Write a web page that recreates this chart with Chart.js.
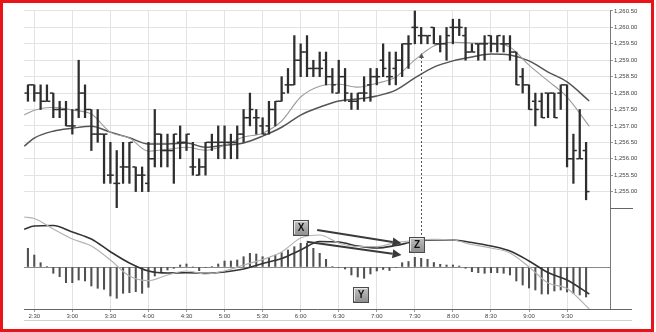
<!DOCTYPE html>
<html><head><meta charset="utf-8">
<script src="https://cdn.jsdelivr.net/npm/chart.js@4.4.1/dist/chart.umd.min.js"></script>
<style>html,body{margin:0;padding:0;background:#fff;}canvas{display:block;}</style>
</head><body><canvas id="c" width="656" height="332"></canvas>
<script>
// ---------- DATA ----------
const tickLabels = ['2:30','3:00','3:30','4:00','4:30','5:00','5:30','6:00','6:30','7:00','7:30','8:00','8:30','9:00','9:30'];
const priceTicks = [1255,1255.5,1256,1256.5,1257,1257.5,1258,1258.5,1259,1259.5,1260,1260.5];
const barsPerLabel = 6;   // 5-minute bars, a label every 30 minutes
const firstBar = -1;      // first bar is 2:25 (one bar before 2:30)

const opens  = [1258.0,1258.25,1258.0,1257.75,1258.0,1257.5,1257.5,1257.0,1257.5,1258.0,1257.5,1256.75,1256.75,1255.5,1255.25,1255.75,1255.75,1255.75,1255.5,1255.25,1256.0,1256.75,1256.25,1256.25,1256.5,1256.5,1255.75,1255.5,1255.75,1256.5,1256.5,1256.5,1256.5,1256.5,1256.75,1257.25,1257.25,1257.0,1257.0,1257.5,1257.75,1258.25,1258.25,1259.0,1259.25,1258.75,1258.75,1259.0,1258.5,1258.0,1258.5,1257.75,1257.75,1258.0,1258.25,1258.5,1259.0,1258.5,1258.75,1259.0,1259.5,1260.0,1259.75,1259.75,1260.0,1259.5,1259.5,1260.0,1260.0,1259.75,1259.25,1259.5,1259.5,1259.75,1259.5,1259.5,1259.5,1259.25,1258.5,1258.25,1257.75,1257.75,1258.0,1258.0,1258.0,1258.25,1256.0,1256.0,1256.25];
const highs  = [1258.25,1258.25,1258.25,1258.25,1258.0,1257.75,1257.75,1257.5,1259.0,1258.25,1257.5,1257.5,1256.75,1256.5,1256.25,1256.5,1256.5,1255.75,1255.75,1256.5,1257.5,1256.75,1256.75,1256.75,1257.0,1256.75,1256.5,1256.0,1256.5,1256.75,1257.0,1257.0,1256.75,1257.0,1257.5,1258.0,1257.5,1257.25,1257.75,1257.75,1258.5,1258.75,1259.75,1259.5,1259.75,1259.0,1259.25,1259.25,1258.75,1259.0,1258.75,1258.0,1258.0,1258.5,1258.75,1258.75,1259.5,1259.25,1259.25,1259.5,1259.75,1260.5,1260.0,1259.75,1260.0,1259.75,1260.0,1260.25,1260.25,1260.0,1259.5,1259.5,1259.75,1259.75,1259.75,1259.75,1259.75,1259.25,1258.75,1258.25,1258.0,1258.0,1258.0,1258.0,1258.25,1258.25,1256.75,1257.5,1256.5];
const lows   = [1257.75,1257.75,1257.5,1257.75,1257.25,1257.25,1257.0,1256.75,1257.25,1257.25,1256.25,1256.5,1255.25,1255.25,1254.5,1255.25,1255.25,1255.0,1255.0,1255.0,1255.75,1255.75,1255.75,1255.25,1256.0,1256.25,1255.5,1255.5,1255.5,1256.25,1256.0,1256.0,1256.0,1256.0,1256.5,1257.0,1256.75,1256.75,1256.75,1257.0,1257.75,1258.0,1258.25,1258.5,1258.5,1258.5,1258.5,1258.25,1258.0,1258.0,1257.75,1257.5,1257.5,1257.75,1257.75,1258.25,1258.5,1258.25,1258.25,1258.5,1258.75,1259.5,1259.5,1259.5,1259.5,1259.25,1259.0,1259.5,1259.75,1259.0,1259.25,1259.0,1259.0,1259.25,1259.25,1259.25,1259.0,1258.25,1258.0,1257.5,1257.0,1257.25,1257.25,1257.25,1257.5,1255.75,1255.25,1256.0,1254.75];
const closes = [1258.25,1258.0,1257.75,1257.75,1257.5,1257.5,1257.0,1257.0,1258.0,1257.5,1256.75,1256.75,1256.75,1255.5,1255.25,1255.75,1256.5,1255.5,1255.5,1256.0,1256.75,1256.25,1256.25,1256.75,1256.5,1256.75,1255.75,1255.75,1256.5,1256.5,1256.5,1256.5,1256.5,1256.75,1257.25,1257.5,1257.25,1256.75,1257.5,1257.75,1258.0,1258.25,1259.0,1259.25,1258.75,1258.75,1258.75,1258.5,1258.25,1258.5,1258.0,1257.75,1258.0,1258.0,1258.5,1258.5,1258.75,1258.5,1259.0,1259.5,1259.5,1260.0,1259.75,1259.75,1259.5,1259.5,1259.75,1260.0,1260.0,1259.25,1259.25,1259.5,1259.5,1259.5,1259.75,1259.5,1259.25,1258.25,1258.25,1257.5,1257.5,1257.25,1258.0,1257.25,1258.25,1256.0,1256.25,1256.0,1255.0];

// moving averages read every 3 bars (x in bar units, 0 = 2:30)
const sampleAt = [-1.6,0,3,6,9,12,15,18,21,24,27,30,33,36,39,42,45,48,51,54,57,60,63,66,69,72,75,78,81,84,87.5];
const maFast = [1257.33,1257.48,1257.57,1257.48,1257.36,1256.81,1256.63,1256.23,1256.29,1256.35,1256.26,1256.41,1256.66,1256.78,1257.15,1257.88,1258.21,1258.27,1258.18,1258.30,1258.49,1259.01,1259.43,1259.55,1259.52,1259.52,1259.40,1258.85,1258.37,1257.88,1256.99];
const maSlow = [1256.38,1256.63,1256.84,1256.93,1256.99,1256.81,1256.64,1256.45,1256.45,1256.48,1256.35,1256.41,1256.48,1256.69,1256.96,1257.33,1257.57,1257.76,1257.82,1257.91,1258.09,1258.46,1258.79,1258.98,1259.10,1259.19,1259.16,1258.98,1258.64,1258.34,1257.76];

// MACD panel
const macdLine   = [0.50,0.485,0.38,0.28,0.21,0.07,-0.09,-0.137,-0.08,-0.04,-0.07,-0.04,0.02,0.075,0.15,0.29,0.32,0.24,0.205,0.203,0.245,0.265,0.277,0.27,0.225,0.19,0.14,0.0,-0.16,-0.215,-0.42];
const signalLine = [0.377,0.41,0.415,0.35,0.28,0.153,0.04,-0.04,-0.06,-0.057,-0.063,-0.05,-0.02,0.035,0.085,0.17,0.255,0.25,0.21,0.19,0.215,0.255,0.27,0.27,0.245,0.21,0.16,0.06,-0.055,-0.13,-0.27];
const histogram  = [0.187,0.12,0.043,0.005,-0.063,-0.097,-0.157,-0.157,-0.13,-0.14,-0.19,-0.213,-0.223,-0.29,-0.313,-0.263,-0.257,-0.247,-0.263,-0.203,-0.09,-0.057,-0.03,-0.013,0.02,0.03,0,-0.037,-0.005,0.005,0.03,0.06,0.06,0.07,0.103,0.137,0.13,0.103,0.097,0.12,0.143,0.17,0.203,0.237,0.237,0.187,0.137,0.077,0.005,-0.005,-0.02,-0.08,-0.1,-0.113,-0.07,-0.04,-0.025,-0.035,-0.005,0.043,0.055,0.097,0.087,0.077,0.045,0.027,0.02,0.02,0.01,-0.013,-0.047,-0.057,-0.063,-0.057,-0.057,-0.063,-0.08,-0.14,-0.18,-0.21,-0.23,-0.27,-0.27,-0.24,-0.23,-0.25,-0.265,-0.28,-0.3];

// annotations (data coordinates)
const labelBoxes = [{text:'X', x:42.1, y:0.39},{text:'Z', x:60.3, y:0.223},{text:'Y', x:51.5, y:-0.275}];
const arrows = [{x0:44.6, y0:0.37, x1:57.9, y1:0.237},{x0:42.95, y0:0.253, x1:57.9, y1:0.12}];
const guide = {x:61, priceTop:1259.22, macdBottom:0.303};

// ---------- CHART ----------
const barX = k => firstBar + k;
const tickPos = tickLabels.map((_, j) => j * barsPerLabel);
const FONT = 'Liberation Sans, Arial, sans-serif';
const BAR = '#2e2e2e';
const tickShift = 0.3;

const extras = {
  id: 'extras',
  afterDatasetsDraw(chart) {
    const {ctx, scales: {x, yp, ym}} = chart;
    ctx.save();
    const gx = Math.round(x.getPixelForValue(guide.x)) + 0.5;
    const gTop = yp.getPixelForValue(guide.priceTop);
    const gBot = ym.getPixelForValue(guide.macdBottom);
    ctx.strokeStyle = '#555'; ctx.lineWidth = 1; ctx.setLineDash([2, 2]);
    ctx.beginPath(); ctx.moveTo(gx, gTop + 4); ctx.lineTo(gx, gBot); ctx.stroke();
    ctx.setLineDash([]);
    ctx.fillStyle = '#555';
    ctx.beginPath(); ctx.moveTo(gx, gTop); ctx.lineTo(gx - 2.5, gTop + 5); ctx.lineTo(gx + 2.5, gTop + 5); ctx.closePath(); ctx.fill();
    for (const a of arrows) {
      const x0 = x.getPixelForValue(a.x0), y0 = ym.getPixelForValue(a.y0);
      const x1 = x.getPixelForValue(a.x1), y1 = ym.getPixelForValue(a.y1);
      const ang = Math.atan2(y1 - y0, x1 - x0), L = 9, W = 4.5;
      const bx = x1 - L * Math.cos(ang), by = y1 - L * Math.sin(ang);
      ctx.strokeStyle = '#3a3a3a'; ctx.lineWidth = 2;
      ctx.beginPath(); ctx.moveTo(x0, y0); ctx.lineTo(bx, by); ctx.stroke();
      ctx.fillStyle = '#3a3a3a';
      ctx.beginPath(); ctx.moveTo(x1, y1);
      ctx.lineTo(bx + W * Math.sin(ang), by - W * Math.cos(ang));
      ctx.lineTo(bx - W * Math.sin(ang), by + W * Math.cos(ang));
      ctx.closePath(); ctx.fill();
    }
    for (const b of labelBoxes) {
      const cx = Math.round(x.getPixelForValue(b.x)), cy = Math.round(ym.getPixelForValue(b.y));
      const s = 16, l = cx - s / 2, t = cy - s / 2;
      const g = ctx.createLinearGradient(0, t, 0, t + s);
      g.addColorStop(0, '#c4c4c4'); g.addColorStop(1, '#8c8c8c');
      ctx.fillStyle = g; ctx.fillRect(l, t, s, s);
      ctx.strokeStyle = '#4a4a4a'; ctx.lineWidth = 1; ctx.strokeRect(l + 0.5, t + 0.5, s - 1, s - 1);
      ctx.strokeStyle = '#e8e8e8';
      ctx.beginPath(); ctx.moveTo(l + 1.5, t + s - 2); ctx.lineTo(l + 1.5, t + 1.5); ctx.lineTo(l + s - 2, t + 1.5); ctx.stroke();
      ctx.fillStyle = '#111'; ctx.font = 'bold 10px ' + FONT; ctx.textAlign = 'center'; ctx.textBaseline = 'middle';
      ctx.fillText(b.text, cx, cy + 0.5);
    }
    ctx.restore();
  },
  afterDraw(chart) {
    const {ctx, chartArea: ca, scales: {ym}} = chart;
    ctx.save();
    ctx.strokeStyle = '#666'; ctx.lineWidth = 1;
    ctx.beginPath(); ctx.moveTo(ca.right, Math.round(ca.bottom) + 0.5); ctx.lineTo(632, Math.round(ca.bottom) + 0.5); ctx.stroke();
    ctx.beginPath(); ctx.moveTo(ca.right, Math.round(ym.top) + 0.5); ctx.lineTo(633, Math.round(ym.top) + 0.5); ctx.stroke();
    ctx.strokeStyle = '#d0d0d0';
    ctx.beginPath(); ctx.moveTo(ca.left, 320.5); ctx.lineTo(632, 320.5); ctx.stroke();
    ctx.strokeStyle = '#e8141a'; ctx.lineWidth = 3;
    ctx.strokeRect(1.5, 1.5, 651, 329);
    ctx.restore();
  }
};

Chart.defaults.font.family = FONT;

new Chart(document.getElementById('c'), {
  type: 'bar',
  data: {
    datasets: [
      { type: 'scatter', label: 'open', data: opens.map((v, k) => ({x: barX(k) - tickShift, y: v})), yAxisID: 'yp',
        pointStyle: 'line', pointRadius: 1.5, pointBorderWidth: 1.5, pointBorderColor: BAR, pointHoverRadius: 1.5, order: 0 },
      { type: 'scatter', label: 'close', data: closes.map((v, k) => ({x: barX(k) + tickShift, y: v})), yAxisID: 'yp',
        pointStyle: 'line', pointRadius: 1.5, pointBorderWidth: 1.5, pointBorderColor: BAR, pointHoverRadius: 1.5, order: 0 },
      { type: 'bar', label: 'range', data: highs.map((h, k) => ({x: barX(k), y: [lows[k], h]})), yAxisID: 'yp',
        backgroundColor: BAR, barThickness: 1.6, grouped: false, order: 0 },
      { type: 'line', label: 'fast MA', data: maFast.map((v, j) => ({x: sampleAt[j], y: v})), yAxisID: 'yp',
        borderColor: '#9c9c9c', borderWidth: 1.1, pointRadius: 0, cubicInterpolationMode: 'monotone', order: 1 },
      { type: 'line', label: 'slow MA', data: maSlow.map((v, j) => ({x: sampleAt[j], y: v})), yAxisID: 'yp',
        borderColor: '#555', borderWidth: 1.5, pointRadius: 0, cubicInterpolationMode: 'monotone', order: 1 },
      { type: 'line', label: 'MACD', data: macdLine.map((v, j) => ({x: sampleAt[j], y: v})), yAxisID: 'ym',
        borderColor: '#b2b2b2', borderWidth: 1.2, pointRadius: 0, cubicInterpolationMode: 'monotone', order: 1 },
      { type: 'line', label: 'signal', data: signalLine.map((v, j) => ({x: sampleAt[j], y: v})), yAxisID: 'ym',
        borderColor: '#333', borderWidth: 1.6, pointRadius: 0, cubicInterpolationMode: 'monotone', order: 1 },
      { type: 'bar', label: 'histogram', data: histogram.map((v, k) => ({x: barX(k), y: v})), yAxisID: 'ym',
        backgroundColor: '#505050', barThickness: 1.4, grouped: false, order: 2 }
    ]
  },
  options: {
    responsive: false, animation: false, devicePixelRatio: 1,
    layout: { padding: { left: 24, top: 10, right: 16, bottom: 12 } },
    plugins: { legend: { display: false }, tooltip: { enabled: false } },
    scales: {
      x: {
        type: 'linear', position: 'bottom', min: -1.62, max: 90.77, offset: false,
        afterBuildTicks: ax => { ax.ticks = tickPos.map(v => ({value: v})); },
        afterFit: ax => { ax.height = 11; },
        ticks: { autoSkip: false, maxRotation: 0, padding: 1, color: '#444', font: { size: 6 },
                 callback: v => { const j = tickPos.indexOf(v); return j >= 0 ? tickLabels[j] : ''; } },
        grid: { color: '#e3e3e3', offset: false, tickLength: 3, tickColor: '#999' },
        border: { color: '#666' }
      },
      yp: {
        type: 'linear', position: 'right', stack: 'panels', stackWeight: 198, min: 1254.5, max: 1260.53,
        afterBuildTicks: ax => { ax.ticks = priceTicks.map(v => ({value: v})); },
        afterFit: ax => { ax.width = 30; },
        ticks: { autoSkip: false, padding: 1, color: '#444', font: { size: 6 },
                 callback: v => Number(v).toLocaleString('en-US', {minimumFractionDigits: 2, maximumFractionDigits: 2}) },
        grid: { color: '#e3e3e3', tickLength: 3, tickColor: '#999' },
        border: { color: '#777' }
      },
      ym: {
        type: 'linear', position: 'right', stack: 'panels', stackWeight: 101, min: -0.42, max: 0.59,
        afterBuildTicks: ax => { ax.ticks = [{value: 0}]; },
        afterFit: ax => { ax.width = 30; },
        ticks: { display: false },
        grid: { color: '#8a8a8a', drawTicks: false },
        border: { color: '#777' }
      }
    }
  },
  plugins: [extras]
});
</script>
</body></html>
